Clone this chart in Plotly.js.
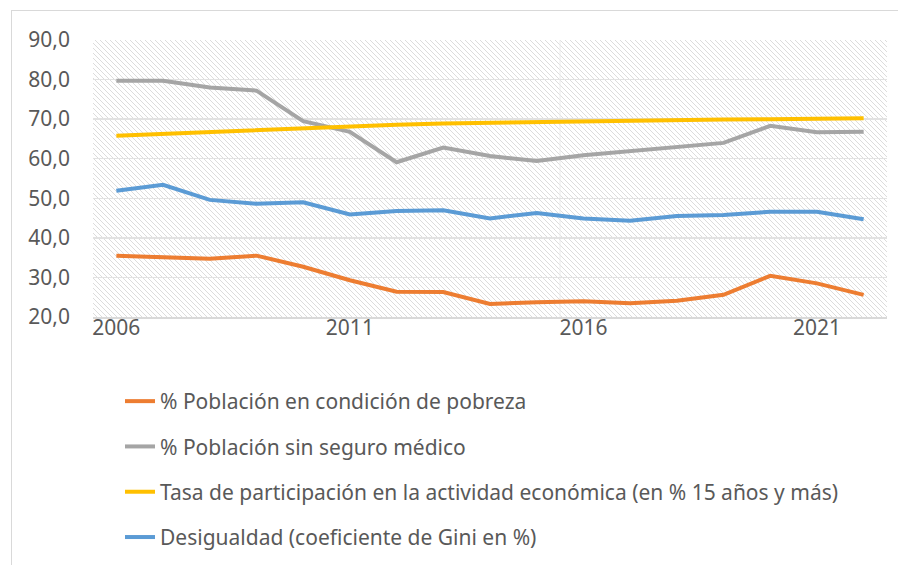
<!DOCTYPE html>
<html>
<head>
<meta charset="utf-8">
<script src="https://cdn.plot.ly/plotly-3.0.1.min.js"></script>
<style>
  html, body { margin: 0; padding: 0; background: #fff; }
  #wrap { position: relative; width: 907px; height: 565px; overflow: hidden; }
  #chart { position: absolute; left: 0; top: 0; width: 907px; height: 565px; }
  #frame { position: absolute; left: 11px; top: 10px; width: 886px; height: 600px;
           border-left: 1px solid #d9d9d9; border-top: 1px solid #d9d9d9; pointer-events: none; }
</style>
</head>
<body>
<div id="wrap">
  <div id="chart"></div>
  <div id="frame"></div>
</div>
<script>
const years = ['2006','2007','2008','2009','2010','2011','2012','2013','2014','2015','2016','2017','2018','2019','2020','2021','2022'];
const pobreza = [35.5, 35.1, 34.7, 35.5, 32.7, 29.3, 26.4, 26.3, 23.3, 23.7, 24.0, 23.5, 24.1, 25.6, 30.4, 28.5, 25.6];
const sinSeguro = [79.7, 79.7, 78.0, 77.2, 69.5, 66.8, 59.1, 62.8, 60.7, 59.4, 60.9, 61.9, 63.0, 64.0, 68.3, 66.7, 66.8];
const participacion = [65.8, 66.3, 66.8, 67.3, 67.8, 68.2, 68.6, 68.9, 69.1, 69.3, 69.5, 69.7, 69.8, 69.9, 70.0, 70.1, 70.2];
const gini = [51.9, 53.4, 49.6, 48.6, 49.0, 45.9, 46.8, 47.0, 44.9, 46.3, 44.9, 44.3, 45.5, 45.8, 46.6, 46.6, 44.7];
const names = [
  '% Población en condición de pobreza',
  '% Población sin seguro médico',
  'Tasa de participación en la actividad económica (en % 15 años y más)',
  'Desigualdad (coeficiente de Gini en %)'
];
const colors = ['#ED7D31', '#A5A5A5', '#FFC000', '#5B9BD5'];
const series = [pobreza, sinSeguro, participacion, gini];
const xTicks = ['2006','2011','2016','2021'];

const FONT = 'Noto Sans, Lato, sans-serif';
const FS = 21;
const traces = series.map((s, i) => ({
  type: 'scatter', mode: 'lines', x: years, y: s, name: names[i],
  legendgroup: 'g' + i,
  line: { color: colors[i], width: 4 },
  hoverinfo: 'skip'
}));

const layout = {
  width: 907, height: 565,
  margin: { l: 93, r: 20, t: 40, b: 248, autoexpand: false },
  paper_bgcolor: 'rgba(0,0,0,0)',
  plot_bgcolor: '#ffffff',
  separators: ', ',
  font: { family: FONT, size: FS, color: '#595959' },
  showlegend: true,
  legend: {
    x: 0.034, xanchor: 'left', y: -0.231, yanchor: 'top',
    orientation: 'v', tracegroupgap: 15,
    font: { family: FONT, size: FS, color: '#595959' },
    bgcolor: 'rgba(0,0,0,0)'
  },
  xaxis: {
    type: 'category', tickmode: 'array', tickvals: xTicks, ticktext: xTicks,
    showgrid: false, zeroline: false, showline: true, linecolor: '#d9d9d9', linewidth: 2,
    ticks: '', ticklabelstandoff: -9, automargin: false,
    tickfont: { family: FONT, size: FS, color: '#595959' },
    range: [-0.5, 16.5]
  },
  yaxis: {
    range: [20, 90], dtick: 10, tick0: 20, tickformat: '.1f', automargin: false,
    showgrid: true, gridcolor: '#e2e2e2', gridwidth: 1.5, zeroline: false, showline: false,
    ticks: '', ticklabelstandoff: 22,
    tickfont: { family: FONT, size: FS, color: '#595959' }
  },
  shapes: [{
    type: 'line', xref: 'x', yref: 'paper', x0: 9.5, x1: 9.5, y0: 0, y1: 1,
    line: { color: '#ececec', width: 1 }, layer: 'below'
  }]
};

Plotly.newPlot('chart', traces, layout, { displayModeBar: false, staticPlot: true }).then(gd => {
  const svg = gd.querySelector('svg.main-svg');
  const ns = 'http://www.w3.org/2000/svg';
  let defs = svg.querySelector('defs');
  if (!defs) { defs = document.createElementNS(ns, 'defs'); svg.insertBefore(defs, svg.firstChild); }
  const pat = document.createElementNS(ns, 'pattern');
  pat.setAttribute('id', 'hatchBg');
  pat.setAttribute('patternUnits', 'userSpaceOnUse');
  pat.setAttribute('width', '5');
  pat.setAttribute('height', '5');
  const r = document.createElementNS(ns, 'rect');
  r.setAttribute('width', '5'); r.setAttribute('height', '5'); r.setAttribute('fill', '#ffffff');
  pat.appendChild(r);
  const p = document.createElementNS(ns, 'path');
  p.setAttribute('d', 'M-1,-1 L6,6 M-1,4 L1,6 M4,-1 L6,1');
  p.setAttribute('stroke', '#dcdcdc');
  p.setAttribute('stroke-width', '1');
  pat.appendChild(p);
  defs.appendChild(pat);
  const bg = svg.querySelector('rect.bg');
  if (bg) { bg.style.fill = 'url(#hatchBg)'; bg.setAttribute('fill', 'url(#hatchBg)'); }
});
</script>
</body>
</html>
